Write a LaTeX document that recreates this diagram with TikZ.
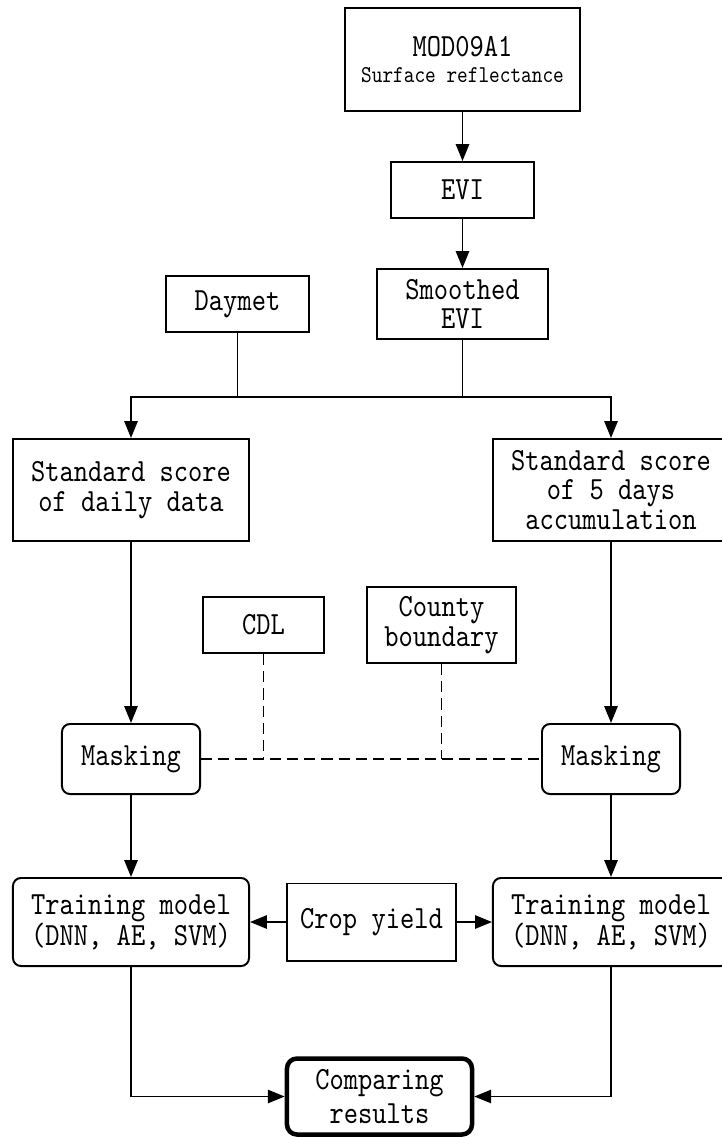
\documentclass[tikz,border=0pt]{standalone}
\usepackage{fontspec}
\usepackage{tikz}
\usetikzlibrary{arrows.meta}
\usetikzlibrary{positioning}

\newfontfamily\flowfont[Extension=.otf,FakeStretch=0.84]{lmmono10-regular}

\tikzset{
  box/.style={rectangle,draw=black,line width=1.4pt,inner sep=0pt,align=center,
    font=\flowfont\fontsize{23}{21}\selectfont},
  rbox/.style={box,rounded corners=0.2cm},
  flow/.style={line width=1.4pt,-{Triangle[length=0.42cm,width=0.33cm]}},
  link/.style={line width=1.4pt},
  maskline/.style={line width=1.4pt,dash pattern=on 0.28cm off 0.15cm},
}

\begin{document}
\begin{tikzpicture}[x=0.025cm,y=-0.025cm]
\useasboundingbox (0,0) rectangle (722,1137);
% inputs
\node at (462.5,59.5)[box,minimum width=5.875cm,minimum height=2.575cm,font=\flowfont\fontsize{23}{18}\selectfont](mod){MOD09A1\\{\fontsize{17.2}{18}\selectfont Surface reflectance}};
\node at (462.5,190)[box,minimum width=3.575cm,minimum height=1.4cm](evi){EVI};
\node at (462.5,304)[box,minimum width=4.275cm,minimum height=1.75cm](smooth){Smoothed\\EVI};
\node at (237.5,304)[box,minimum width=3.575cm,minimum height=1.4cm](daymet){Daymet};
% standard scores
\node at (131,490)[box,minimum width=5.9cm,minimum height=2.55cm](stdl){Standard score\\of daily data};
\node at (611,490)[box,minimum width=5.9cm,minimum height=2.55cm](stdr){Standard score\\of 5 days\\accumulation};
% masks
\node at (263.5,625)[box,minimum width=3.025cm,minimum height=1.4cm](cdl){CDL};
\node at (441.5,625)[box,minimum width=3.725cm,minimum height=1.9cm,font=\flowfont\fontsize{23}{21}\selectfont](county){County\\boundary};
\node at (131,759)[rbox,minimum width=3.45cm,minimum height=1.75cm](maskl){Masking};
\node at (611,759)[rbox,minimum width=3.45cm,minimum height=1.75cm](maskr){Masking};
% models
\node at (131,922)[rbox,minimum width=5.9cm,minimum height=2.2cm,font=\flowfont\fontsize{23}{16}\selectfont](trainl){Training model\\(DNN, AE, SVM)};
\node at (611,922)[rbox,minimum width=5.9cm,minimum height=2.2cm,font=\flowfont\fontsize{23}{16}\selectfont](trainr){Training model\\(DNN, AE, SVM)};
\node at (371.5,922)[box,minimum width=4.225cm,minimum height=1.925cm](crop){Crop yield};
\node at (379.5,1096.5)[rbox,line width=3.2pt,rounded corners=0.25cm,minimum width=4.625cm,minimum height=1.9cm,font=\flowfont\fontsize{23}{24}\selectfont](cmp){Comparing\\results};

\coordinate (splitl) at (131,397);
\coordinate (splitr) at (611,397);

\draw[flow] (mod) -- (evi);
\draw[flow] (evi) -- (smooth);
\draw[link] (daymet.south) -- (daymet.south |- splitl);
\draw[link] (smooth.south) -- (smooth.south |- splitl);
\draw[flow] (splitr) -- (splitl) -- (stdl);
\draw[flow] (splitl) -- (splitr) -- (stdr);
\draw[flow] (stdl) -- (maskl);
\draw[flow] (stdr) -- (maskr);
% dashed mask inputs
\draw[maskline] (maskl) -- (maskr);
\draw[maskline] (cdl) -- (cdl |- maskl);
\draw[maskline] (county) -- (county |- maskl);
\draw[flow] (maskl) -- (trainl);
\draw[flow] (maskr) -- (trainr);
\draw[flow] (crop) -- (trainl);
\draw[flow] (crop) -- (trainr);
\draw[flow] (trainl) |- (cmp);
\draw[flow] (trainr) |- (cmp);
\end{tikzpicture}
\end{document}
